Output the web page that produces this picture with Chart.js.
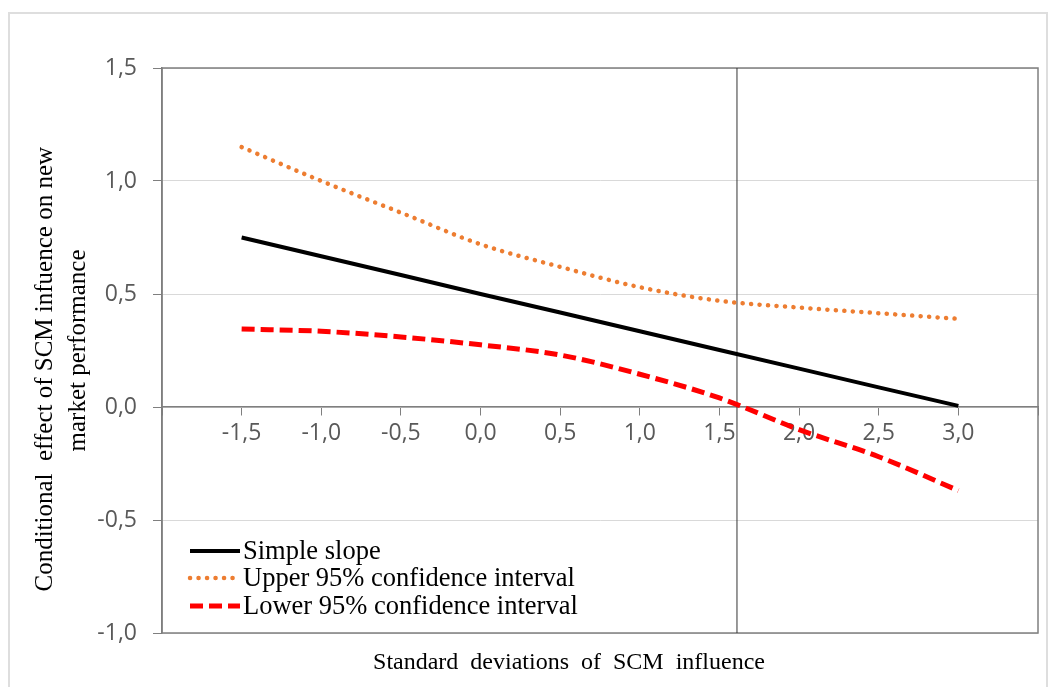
<!DOCTYPE html>
<html>
<head>
<meta charset="utf-8">
<script src="https://cdn.jsdelivr.net/npm/chart.js@4.4.1/dist/chart.umd.min.js"></script>
<style>
  body { margin: 0; background: #fff; }
  #frame { position: absolute; left: 8px; top: 12px; width: 1040px; height: 700px; border: 2px solid #dedede; box-sizing: border-box; }
  #c { position: absolute; left: 0; top: 0; }
</style>
</head>
<body>
<div id="frame"></div>
<canvas id="c" width="1052" height="687"></canvas>
<script>
// values
const sdValues = [-1.5, -1.0, -0.5, 0.0, 0.5, 1.0, 1.5, 2.0, 2.5, 3.0];
const simpleSlope = [0.75, 0.667, 0.584, 0.50, 0.418, 0.335, 0.252, 0.17, 0.087, 0.005];
const upperCI = [1.15, 1.00, 0.86, 0.72, 0.62, 0.53, 0.47, 0.44, 0.415, 0.39];
const lowerCI = [0.345, 0.335, 0.31, 0.275, 0.23, 0.145, 0.04, -0.10, -0.22, -0.37];
const seriesNames = ['Simple slope', 'Upper 95% confidence interval', 'Lower 95% confidence interval'];
const jnPoint = 1.61;
const yRange = [-1.0, 1.5];
const xRange = [-2.0, 3.5];
const yTitle = ['Conditional  effect of SCM infuence on new      ', 'market performance'];
const xTitle = 'Standard  deviations  of  SCM  influence';

const toPoints = vals => sdValues.map((x, i) => ({ x: x, y: vals[i] }));
const fmt = v => Number(v).toFixed(1).replace('.', ',');
const dark = '#7f7f7f';

// plot box, legend and x title
const extras = {
  id: 'extras',
  beforeDatasetsDraw(chart) {
    const { ctx, chartArea: a } = chart;
    ctx.save();
    ctx.strokeStyle = dark;
    ctx.lineWidth = 1.5;
    ctx.strokeRect(a.left, a.top, a.right - a.left, a.bottom - a.top);
    ctx.restore();
  },
  afterDraw(chart) {
    const { ctx, chartArea: a } = chart;
    ctx.save();
    // legend
    ctx.font = '26.5px "Liberation Serif", "Times New Roman", serif';
    ctx.textBaseline = 'middle';
    ctx.fillStyle = '#000';
    const rows = [a.bottom - 82, a.bottom - 55, a.bottom - 27];
    chart.data.datasets.slice(0, 3).forEach((ds, i) => {
      const y = rows[i];
      ctx.beginPath();
      ctx.strokeStyle = ds.borderColor;
      ctx.lineWidth = ds.borderWidth;
      ctx.lineCap = ds.borderCapStyle || 'butt';
      ctx.setLineDash(ds.borderDash || []);
      ctx.moveTo(a.left + 28, y);
      ctx.lineTo(a.left + 78, y);
      ctx.stroke();
      ctx.fillText(ds.label, a.left + 81, y + 1);
    });
    // x axis title
    ctx.setLineDash([]);
    ctx.font = '24px "Liberation Serif", "Times New Roman", serif';
    ctx.textAlign = 'center';
    ctx.fillText(xTitle, (a.left + a.right) / 2 - 31, a.bottom + 30);
    ctx.restore();
  }
};

new Chart(document.getElementById('c'), {
  type: 'line',
  data: {
    datasets: [
      {
        label: seriesNames[0],
        data: toPoints(simpleSlope),
        borderColor: '#000000',
        borderWidth: 4,
        pointRadius: 0,
        tension: 0
      },
      {
        label: seriesNames[1],
        data: toPoints(upperCI),
        borderColor: '#ED7D31',
        borderWidth: 4.5,
        borderDash: [0.1, 8.4],
        borderCapStyle: 'round',
        pointRadius: 0,
        cubicInterpolationMode: 'monotone'
      },
      {
        label: seriesNames[2],
        data: toPoints(lowerCI),
        borderColor: '#FF0000',
        borderWidth: 5,
        borderDash: [13, 6],
        pointRadius: 0,
        cubicInterpolationMode: 'monotone'
      },
      {
        label: 'jn',
        data: [{ x: jnPoint, y: yRange[0] }, { x: jnPoint, y: yRange[1] }],
        borderColor: '#333333',
        borderWidth: 1,
        pointRadius: 0
      }
    ]
  },
  options: {
    responsive: false,
    devicePixelRatio: 1,
    animation: false,
    layout: { padding: { left: 0, top: 68, right: 14, bottom: 54 } },
    plugins: {
      legend: { display: false },
      tooltip: { enabled: false }
    },
    scales: {
      x: {
        type: 'linear',
        min: xRange[0],
        max: xRange[1],
        position: { y: 0 },
        grid: { drawOnChartArea: false, tickLength: 8, tickColor: dark },
        border: { color: dark, width: 1.5 },
        ticks: {
          stepSize: 0.5,
          padding: 5,
          color: '#595959',
          font: { family: '"Open Sans", sans-serif', size: 23 },
          callback: v => (v < sdValues[0] || v > sdValues[sdValues.length - 1]) ? '' : fmt(v)
        }
      },
      y: {
        min: yRange[0],
        max: yRange[1],
        afterFit: s => { s.width = 162; },
        grid: { color: '#d9d9d9', tickLength: 9, tickColor: dark },
        border: { color: dark, width: 1.5 },
        ticks: {
          stepSize: 0.5,
          padding: 16,
          color: '#595959',
          font: { family: '"Open Sans", sans-serif', size: 23 },
          callback: v => fmt(v)
        },
        title: {
          display: true,
          text: yTitle,
          color: '#000',
          padding: { top: 29, bottom: 0 },
          font: { family: '"Liberation Serif", "Times New Roman", serif', size: 25, lineHeight: 1.33 }
        }
      }
    }
  },
  plugins: [extras]
});
</script>
</body>
</html>
